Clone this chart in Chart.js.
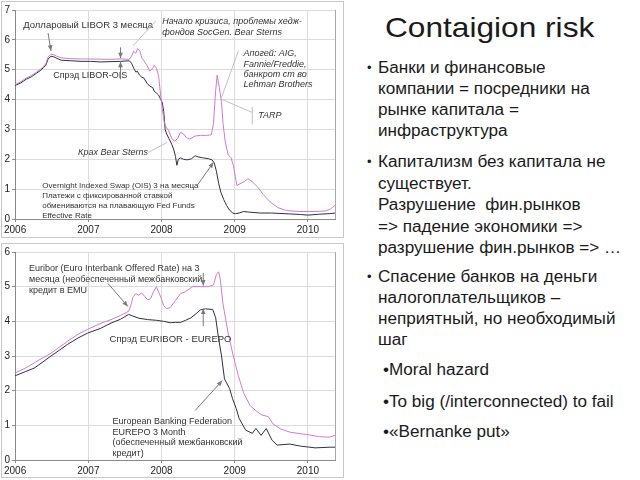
<!DOCTYPE html>
<html>
<head>
<meta charset="utf-8">
<script src="https://cdn.jsdelivr.net/npm/chart.js@4.4.1/dist/chart.umd.min.js"></script>
<style>
  html, body { margin: 0; padding: 0; background: #fff; }
  body { width: 640px; height: 480px; position: relative; overflow: hidden; font-family: "Liberation Sans", Arial, sans-serif; color: #1a1a1a; }
  .frame { position: absolute; left: 1px; width: 343px; border: 1px solid #c8c8c8; box-sizing: border-box; }
  .frame canvas { position: absolute; left: 0; top: 0; }
  .title { position: absolute; left: 385px; top: 14px; font-size: 28px; line-height: 28px; white-space: nowrap; transform: scaleX(1.13); transform-origin: left top; }
  .para { position: absolute; left: 378px; font-size: 16px; line-height: 21px; white-space: nowrap; transform: scaleX(1.07); transform-origin: left top; }
  .dot { position: absolute; left: 367px; font-size: 13px; line-height: 21px; }
</style>
</head>
<body>
<div class="frame" style="top:1px;height:237px"><canvas id="libor"></canvas></div>
<div class="frame" style="top:243px;height:235px"><canvas id="euribor"></canvas></div>

<div class="title">Contaigion risk</div>
<div class="dot" style="top:57px">•</div>
<div class="para" style="top:57px">Банки и финансовые<br>компании = посредники на<br>рынке капитала =<br>инфраструктура</div>
<div class="dot" style="top:151px">•</div>
<div class="para" style="top:151px;line-height:21.5px">Капитализм без капитала не<br>существует.<br>Разрушение&nbsp; фин.рынков<br>=&gt; падение экономики =&gt;<br>разрушение фин.рынков =&gt; …</div>
<div class="dot" style="top:266px">•</div>
<div class="para" style="top:266px">Спасение банков на деньги<br>налогоплательщиков –<br>неприятный, но необходимый<br>шаг</div>
<div class="para" style="left:383px;top:359px">•Moral hazard</div>
<div class="para" style="left:383px;top:391px">•To big (/interconnected) to fail</div>
<div class="para" style="left:383px;top:421px">•«Bernanke put»</div>

<script>
// --- DATA | верхний график: доллар LIBOR и OIS --- //
const yearTicks = [2006, 2007, 2008, 2009, 2010]

const liborYears = [2006.00, 2006.08, 2006.15, 2006.22, 2006.29, 2006.35, 2006.39, 2006.42, 2006.45, 2006.49,
  2006.53, 2006.57, 2006.63, 2006.76, 2006.90, 2007.03, 2007.17, 2007.31, 2007.44, 2007.56,
  2007.59, 2007.62, 2007.65, 2007.67, 2007.70, 2007.73, 2007.76, 2007.80, 2007.84, 2007.88,
  2007.90, 2007.93, 2007.96, 2007.99, 2008.01, 2008.04, 2008.07, 2008.10, 2008.14, 2008.18,
  2008.22, 2008.26, 2008.30, 2008.34, 2008.39, 2008.46, 2008.53, 2008.61, 2008.68, 2008.71,
  2008.74, 2008.76, 2008.79, 2008.82, 2008.84, 2008.87, 2008.91, 2008.95, 2008.98, 2009.01,
  2009.03, 2009.07, 2009.13, 2009.18, 2009.24, 2009.31, 2009.39, 2009.48, 2009.59, 2009.71,
  2009.89, 2010.10, 2010.23, 2010.30, 2010.34, 2010.37]
const liborValues = [4.50, 4.60, 4.72, 4.80, 4.92, 5.02, 5.12, 5.20, 5.42, 5.52,
  5.50, 5.45, 5.40, 5.37, 5.36, 5.36, 5.35, 5.35, 5.36, 5.35,
  5.45, 5.62, 5.55, 5.70, 5.65, 5.40, 5.30, 5.15, 4.95, 5.05,
  5.15, 5.05, 4.80, 4.10, 3.70, 3.20, 3.05, 2.95, 2.70, 2.60,
  2.70, 2.90, 2.85, 2.72, 2.68, 2.78, 2.80, 2.80, 2.82, 3.20,
  4.30, 4.82, 4.40, 3.90, 3.20, 2.60, 2.15, 2.05, 1.80, 1.40,
  1.12, 1.18, 1.25, 1.35, 1.25, 1.08, 0.82, 0.58, 0.38, 0.28,
  0.25, 0.25, 0.27, 0.32, 0.40, 0.45]

const oisYears = [2006.00, 2006.08, 2006.15, 2006.22, 2006.29, 2006.35, 2006.39, 2006.42, 2006.45, 2006.49,
  2006.53, 2006.57, 2006.63, 2006.76, 2006.90, 2007.03, 2007.17, 2007.31, 2007.44, 2007.56,
  2007.59, 2007.62, 2007.65, 2007.67, 2007.70, 2007.73, 2007.76, 2007.80, 2007.84, 2007.88,
  2007.90, 2007.93, 2007.96, 2007.99, 2008.01, 2008.03, 2008.05, 2008.07, 2008.10, 2008.14,
  2008.17, 2008.19, 2008.21, 2008.23, 2008.26, 2008.30, 2008.35, 2008.41, 2008.46, 2008.50,
  2008.56, 2008.64, 2008.69, 2008.72, 2008.75, 2008.78, 2008.81, 2008.85, 2008.89, 2008.93,
  2008.97, 2009.01, 2009.06, 2009.12, 2009.20, 2009.35, 2009.50, 2009.75, 2009.90, 2010.00,
  2010.15, 2010.30, 2010.37]
const oisValues = [4.47, 4.56, 4.68, 4.76, 4.88, 4.98, 5.08, 5.15, 5.36, 5.45,
  5.43, 5.38, 5.32, 5.30, 5.28, 5.28, 5.26, 5.27, 5.28, 5.30,
  5.22, 5.05, 4.92, 4.95, 4.82, 4.75, 4.72, 4.55, 4.45, 4.40,
  4.28, 4.22, 4.15, 4.00, 3.90, 3.60, 3.00, 2.85, 2.70, 2.50,
  2.30, 2.10, 1.80, 2.00, 2.05, 2.00, 1.98, 2.02, 2.12, 2.08,
  2.05, 2.02, 1.98, 1.88, 1.60, 1.20, 0.90, 0.65, 0.45, 0.30,
  0.20, 0.18, 0.20, 0.25, 0.23, 0.20, 0.20, 0.17, 0.15, 0.13,
  0.16, 0.18, 0.20]

// --- DATA | нижний график: EURIBOR и EUREPO --- //
const euriborYears = [2006.00, 2006.14, 2006.26, 2006.38, 2006.49, 2006.60, 2006.72, 2006.86, 2006.99, 2007.17,
  2007.31, 2007.44, 2007.55, 2007.58, 2007.61, 2007.65, 2007.69, 2007.73, 2007.77, 2007.81,
  2007.85, 2007.89, 2007.93, 2007.96, 2007.99, 2008.03, 2008.07, 2008.12, 2008.19, 2008.26,
  2008.33, 2008.42, 2008.53, 2008.64, 2008.71, 2008.75, 2008.78, 2008.80, 2008.84, 2008.91,
  2008.98, 2009.05, 2009.12, 2009.21, 2009.29, 2009.37, 2009.46, 2009.52, 2009.62, 2009.76,
  2009.89, 2010.03, 2010.16, 2010.30, 2010.37]
const euriborValues = [2.51, 2.65, 2.80, 2.95, 3.08, 3.25, 3.43, 3.63, 3.77, 3.94,
  4.05, 4.17, 4.29, 4.45, 4.70, 4.80, 4.75, 4.82, 4.72, 4.62,
  4.65, 4.85, 5.00, 4.85, 4.70, 4.45, 4.37, 4.40, 4.60, 4.80,
  4.86, 5.00, 5.00, 5.00, 5.05, 5.35, 5.43, 5.25, 4.50, 3.66,
  3.00, 2.43, 1.94, 1.57, 1.42, 1.30, 1.25, 1.05, 0.90, 0.80,
  0.76, 0.72, 0.67, 0.66, 0.71]

const eurepoYears = [2006.00, 2006.14, 2006.26, 2006.38, 2006.49, 2006.60, 2006.72, 2006.86, 2006.99, 2007.17,
  2007.31, 2007.44, 2007.55, 2007.61, 2007.69, 2007.81, 2007.93, 2008.03, 2008.12, 2008.19,
  2008.26, 2008.33, 2008.40, 2008.46, 2008.53, 2008.60, 2008.70, 2008.74, 2008.78, 2008.82,
  2008.86, 2008.93, 2008.97, 2009.02, 2009.06, 2009.15, 2009.24, 2009.29, 2009.36, 2009.43,
  2009.51, 2009.58, 2009.75, 2009.90, 2010.10, 2010.30, 2010.37]
const eurepoValues = [2.43, 2.55, 2.65, 2.83, 3.00, 3.16, 3.34, 3.52, 3.66, 3.80,
  3.95, 4.06, 4.20, 4.15, 4.09, 4.05, 4.03, 4.00, 3.96, 3.97,
  3.97, 4.03, 4.10, 4.20, 4.33, 4.36, 4.34, 4.10, 3.50, 3.00,
  2.34, 2.06, 1.77, 1.49, 1.20, 0.86, 0.77, 0.91, 0.71, 0.91,
  0.57, 0.43, 0.46, 0.40, 0.35, 0.37, 0.37]

// --- STYLE --- //
const pink = '#d07ad0'
const dark = '#2e2e48'
const gridColor = '#dcdcdc'
const axisColor = '#8a8a8a'
const font = '"Liberation Sans", Arial, sans-serif'

// склеивает пары (год, значение) в точки
const toPoints = (xs, ys) => xs.map((x, i) => ({ x, y: ys[i] }))

// Подписи и стрелки внутри графика (координаты в единицах осей)
function makeNotes (items) {
  return {
    id: 'notes',
    afterDatasetsDraw (chart) {
      const { ctx, scales: { x, y }, chartArea } = chart
      const P = p => [x.getPixelForValue(p[0]), y.getPixelForValue(p[1])]
      ctx.save()
      // правая граница области графика
      ctx.strokeStyle = '#a8a8a8'
      ctx.lineWidth = 1
      ctx.beginPath()
      ctx.moveTo(Math.round(chartArea.right) + 0.5, chartArea.top)
      ctx.lineTo(Math.round(chartArea.right) + 0.5, chartArea.bottom)
      ctx.stroke()
      for (const it of items) {
        if (it.text) {
          ctx.fillStyle = '#333'
          ctx.font = (it.italic ? 'italic ' : '') + (it.size || 9) + 'px ' + font
          ctx.textAlign = 'left'
          ctx.textBaseline = 'middle'
          const [px, py] = P(it.at)
          it.text.forEach((line, i) => ctx.fillText(line, px, py + i * (it.gap || 10.5)))
        } else {
          const pts = it.pts.map(P)
          ctx.strokeStyle = it.color || '#7a7a7a'
          ctx.lineWidth = 1
          ctx.beginPath()
          pts.forEach((p, i) => (i ? ctx.lineTo(p[0], p[1]) : ctx.moveTo(p[0], p[1])))
          ctx.stroke()
          if (it.arrow) {
            const [a, b] = pts.slice(-2)
            const ang = Math.atan2(b[1] - a[1], b[0] - a[0])
            ctx.fillStyle = it.color || '#7a7a7a'
            ctx.beginPath()
            ctx.moveTo(b[0], b[1])
            ctx.lineTo(b[0] - 6 * Math.cos(ang - 0.4), b[1] - 6 * Math.sin(ang - 0.4))
            ctx.lineTo(b[0] - 6 * Math.cos(ang + 0.4), b[1] - 6 * Math.sin(ang + 0.4))
            ctx.closePath()
            ctx.fill()
          }
        }
      }
      ctx.restore()
    }
  }
}

const liborNotes = [
  { text: ['Долларовый LIBOR 3 месяца'], at: [2006.11, 6.5], size: 9.5 },
  { pts: [[2006.45, 6.23], [2006.49, 5.63]], arrow: true },
  { text: ['Спрэд LIBOR-OIS'], at: [2006.52, 4.8] },
  { pts: [[2007.44, 5.75], [2007.44, 5.38]], arrow: true },
  { pts: [[2007.44, 4.68], [2007.44, 5.27]], arrow: true },
  { text: ['Начало кризиса, проблемы хедж-', 'фондов SocGen. Bear Sterns'], at: [2008.01, 6.63], italic: true, gap: 11 },
  { pts: [[2007.92, 6.63], [2007.61, 5.8]], color: '#c0c0c0' },
  { text: ['Апогей: AIG,', 'Fannie/Freddie,', 'банкрот ст во', 'Lehman Brothers'], at: [2009.12, 5.53], italic: true, gap: 10.2 },
  { pts: [[2009.05, 5.63], [2008.82, 4.07]], color: '#c0c0c0' },
  { text: ['TARP'], at: [2009.32, 3.47], italic: true },
  { pts: [[2008.80, 4.03], [2009.24, 3.57]], color: '#c0c0c0' },
  { pts: [[2009.24, 3.75], [2009.24, 3.17]], color: '#c0c0c0' },
  { text: ['Крах Bear Sterns'], at: [2006.86, 2.23], italic: true },
  { pts: [[2007.82, 2.23], [2008.08, 2.57]], color: '#c0c0c0' },
  { text: ['Overnight Indexed Swap (OIS) 3 на месяца', 'Платежи с фиксированной ставкой',
    'обмениваются на плавающую Fed Funds', 'Effective Rate'], at: [2006.37, 1.1], gap: 10, size: 8 },
  { pts: [[2008.49, 1.13], [2008.71, 1.9]], arrow: true }
]

const euriborNotes = [
  { text: ['Euribor (Euro Interbank Offered Rate) на 3', 'месяца (необеспеченный межбанковский', 'кредит в EMU'],
    at: [2006.19, 5.51], gap: 11 },
  { pts: [[2007.27, 5.09], [2007.54, 4.43]], arrow: true },
  { pts: [[2008.57, 5.4], [2008.57, 5.03]], arrow: true },
  { pts: [[2008.57, 3.86], [2008.57, 4.37]], arrow: true },
  { text: ['Спрэд EURIBOR - EUREPO'], at: [2007.29, 3.49], size: 9.5 },
  { text: ['European Banking Federation', 'EUREPO 3 Month', '(обеспеченный межбанковский', 'кредит)'],
    at: [2007.33, 1.11], gap: 10.5 },
  { pts: [[2008.46, 1.43], [2008.83, 2.29]], arrow: true }
]

// общие опции для обоих графиков
function makeOptions (yMax, padTop, xHeight) {
  return {
    responsive: false,
    animation: false,
    layout: { padding: { top: padTop, right: 9, left: 0, bottom: 0 } },
    plugins: { legend: { display: false }, tooltip: { enabled: false } },
    elements: { point: { radius: 0 }, line: { borderWidth: 1, tension: 0 } },
    scales: {
      x: {
        type: 'linear',
        min: yearTicks[0],
        max: 2010.37,
        afterFit: axis => { axis.height = xHeight },
        afterBuildTicks: axis => { axis.ticks = yearTicks.map(v => ({ value: v })) },
        ticks: { padding: 2, color: '#222', font: { family: font, size: 10 }, maxRotation: 0, callback: v => String(v) },
        grid: { color: gridColor, tickLength: 3, tickColor: axisColor },
        border: { color: axisColor }
      },
      y: {
        min: 0,
        max: yMax,
        afterFit: axis => { axis.width = 12 },
        ticks: { stepSize: 1, padding: 2, color: '#222', font: { family: font, size: 10 } },
        grid: { color: gridColor, tickLength: 3, tickColor: axisColor },
        border: { color: axisColor }
      }
    }
  }
}

const c1 = document.getElementById('libor')
c1.width = 342; c1.height = 235
new Chart(c1, {
  type: 'line',
  data: {
    datasets: [
      { label: 'LIBOR 3m', data: toPoints(liborYears, liborValues), borderColor: pink },
      { label: 'OIS 3m', data: toPoints(oisYears, oisValues), borderColor: dark }
    ]
  },
  options: makeOptions(7, 7, 18),
  plugins: [makeNotes(liborNotes)]
})

const c2 = document.getElementById('euribor')
c2.width = 342; c2.height = 233
new Chart(c2, {
  type: 'line',
  data: {
    datasets: [
      { label: 'EURIBOR 3m', data: toPoints(euriborYears, euriborValues), borderColor: pink },
      { label: 'EUREPO 3m', data: toPoints(eurepoYears, eurepoValues), borderColor: dark }
    ]
  },
  options: makeOptions(6, 6, 17),
  plugins: [makeNotes(euriborNotes)]
})
</script>
</body>
</html>
